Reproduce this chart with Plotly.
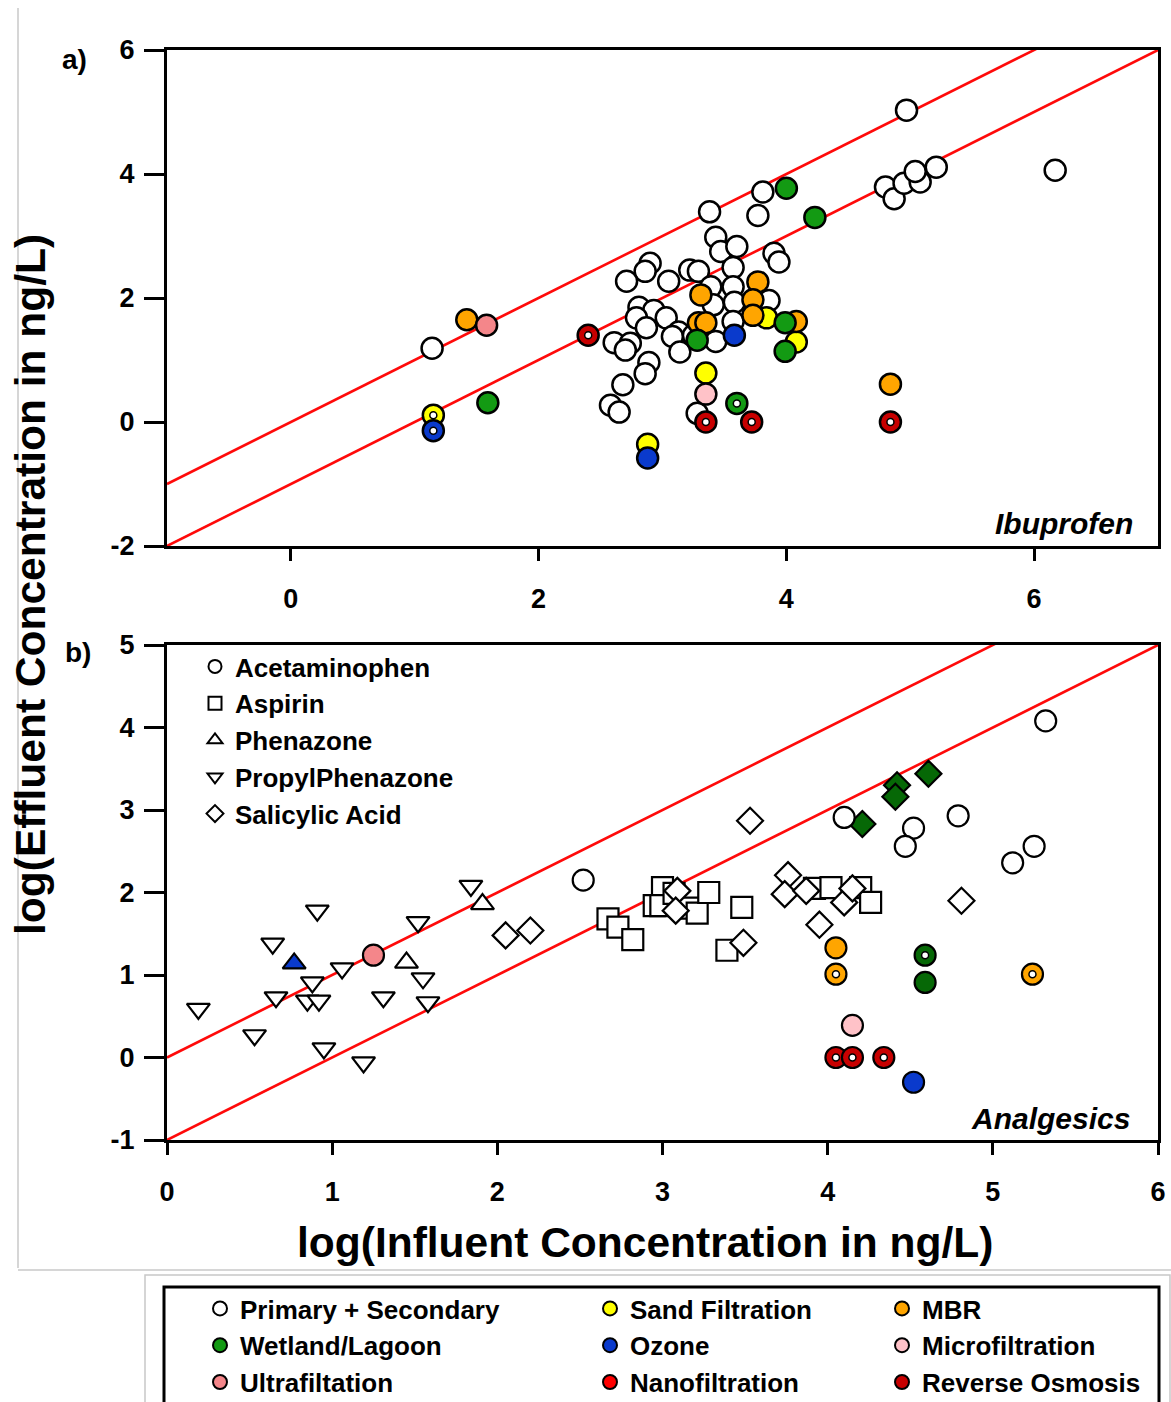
import plotly.graph_objects as go

W, H = 1171, 1402
FONT = "Liberation Sans, Arial, sans-serif"

def fx(p):
    return p / W

def fy(p):
    return 1 - p / H

# ---------------- Treatment categories ----------------
treat_keys = ["primary", "wetland", "ultra", "sand", "ozone", "nano", "mbr", "micro", "ro"]
treat_names = ["Primary + Secondary", "Wetland/Lagoon", "Ultrafiltation",
               "Sand Filtration", "Ozone", "Nanofiltration",
               "MBR", "Microfiltration", "Reverse Osmosis"]
treat_colors = ["#ffffff", "#139a13", "#f4868a",
                "#ffff00", "#0a3acc", "#ff0000",
                "#ffa500", "#ffc2c8", "#c80000"]
bottom_wetland_color = "#066806"

# ---------------- Panel a) Ibuprofen ----------------
ibu_primary_x = [1.14, 4.97, 6.17, 4.80, 4.87, 4.95, 5.08, 5.04, 5.21, 3.81, 3.77, 3.38,
                 3.43, 3.47, 3.60, 3.90, 3.94, 2.90, 2.86, 2.71, 3.05, 3.22, 3.29, 3.57,
                 3.57, 3.39, 2.81, 2.93, 2.79, 3.03, 2.87, 3.41, 3.58, 3.86, 3.13, 3.08,
                 2.61, 2.74, 2.70, 3.43, 3.14, 2.89, 2.86, 2.68, 2.58, 2.65, 3.28, 3.25, 3.57]
ibu_primary_y = [1.19, 5.03, 4.06, 3.79, 3.60, 3.85, 3.87, 4.04, 4.11, 3.71, 3.33, 3.39,
                 2.98, 2.75, 2.83, 2.72, 2.58, 2.56, 2.43, 2.27, 2.27, 2.45, 2.43, 2.49,
                 2.18, 2.18, 1.85, 1.80, 1.68, 1.68, 1.52, 1.89, 1.93, 1.96, 1.45, 1.38,
                 1.28, 1.27, 1.16, 1.30, 1.13, 0.96, 0.78, 0.60, 0.27, 0.16, 0.14, 1.40, 1.62]
ibu_primary_dot = [0] * len(ibu_primary_x)

ibu_sand_x = [1.15, 2.88, 3.84, 4.08, 3.35]
ibu_sand_y = [0.11, -0.36, 1.68, 1.29, 0.79]
ibu_sand_dot = [1, 0, 0, 0, 0]

ibu_mbr_x = [1.42, 3.77, 3.31, 3.73, 3.73, 3.29, 3.35, 4.08, 4.84]
ibu_mbr_y = [1.65, 2.26, 2.05, 1.97, 1.72, 1.60, 1.60, 1.62, 0.61]
ibu_mbr_dot = [0] * 9

ibu_wetland_x = [1.59, 4.00, 4.23, 3.99, 3.99, 3.28, 3.60]
ibu_wetland_y = [0.31, 3.77, 3.30, 1.60, 1.14, 1.32, 0.30]
ibu_wetland_dot = [0, 0, 0, 0, 0, 0, 1]

ibu_ozone_x = [1.15, 2.88, 3.58]
ibu_ozone_y = [-0.14, -0.58, 1.40]
ibu_ozone_dot = [1, 0, 0]

ibu_ultra_x = [1.58]
ibu_ultra_y = [1.56]
ibu_ultra_dot = [0]

ibu_micro_x = [3.35]
ibu_micro_y = [0.45]
ibu_micro_dot = [0]

ibu_ro_x = [2.40, 3.35, 3.72, 4.84]
ibu_ro_y = [1.40, 0.00, 0.00, 0.00]
ibu_ro_dot = [1, 1, 1, 1]

# ---------------- Panel b) Analgesics ----------------
acet_x = [2.52, 5.32, 4.10, 4.52, 4.47, 4.79, 5.12, 5.25, 1.25, 4.05, 4.05, 5.24,
          4.59, 4.59, 4.15, 4.05, 4.15, 4.34, 4.52]
acet_y = [2.15, 4.08, 2.91, 2.78, 2.56, 2.93, 2.36, 2.56, 1.24, 1.33, 1.01, 1.01,
          1.24, 0.91, 0.39, 0.00, 0.00, 0.00, -0.30]
acet_treat = ["primary"] * 8 + ["ultra", "mbr", "mbr", "mbr", "wetland", "wetland",
                                "micro", "ro", "ro", "ro", "ozone"]
acet_dot = [0] * 8 + [0, 0, 1, 1, 1, 0, 0, 1, 1, 1, 0]

aspirin_x = [2.67, 2.73, 2.82, 2.95, 3.00, 2.99, 3.07, 3.16, 3.21, 3.28, 3.48, 3.39,
             3.92, 4.02, 4.20, 4.26]
aspirin_y = [1.68, 1.58, 1.43, 1.84, 2.06, 1.84, 1.99, 1.81, 1.75, 2.00, 1.82, 1.30,
             2.05, 2.06, 2.06, 1.88]
aspirin_treat = ["primary"] * len(aspirin_x)

phen_x = [1.91, 1.45, 0.77]
phen_y = [1.86, 1.15, 1.14]
phen_treat = ["primary", "primary", "ozone"]

propyl_x = [0.19, 0.53, 0.64, 0.66, 0.91, 0.88, 0.85, 0.92, 0.95, 1.06, 1.19, 1.31,
            1.52, 1.55, 1.58, 1.84]
propyl_y = [0.59, 0.27, 1.38, 0.73, 1.78, 0.91, 0.69, 0.69, 0.11, 1.08, -0.06, 0.73,
            1.64, 0.96, 0.67, 2.08]
propyl_treat = ["primary"] * len(propyl_x)

salic_x = [2.05, 2.20, 3.09, 3.08, 3.49, 3.53, 3.76, 3.74, 3.87, 3.95, 4.10, 4.15, 4.81,
           4.61, 4.42, 4.41, 4.21]
salic_y = [1.48, 1.54, 2.02, 1.78, 1.39, 2.87, 2.21, 1.98, 2.02, 1.61, 1.88, 2.05, 1.90,
           3.44, 3.30, 3.16, 2.83]
salic_treat = ["primary"] * 13 + ["wetland"] * 4

compound_names = ["Acetaminophen", "Aspirin", "Phenazone", "PropylPhenazone", "Salicylic Acid"]
compound_symbols = ["circle", "square", "triangle-up", "triangle-down", "diamond"]

# reference lines: y = x + offset
ref_line_offsets = [0, -1]

top_xrange = [-1, 7]
top_yrange = [-2, 6]
bot_xrange = [0, 6]
bot_yrange = [-1, 5]
top_xticks = [0, 2, 4, 6]
top_yticks = [-2, 0, 2, 4, 6]
bot_xticks = [0, 1, 2, 3, 4, 5, 6]
bot_yticks = [-1, 0, 1, 2, 3, 4, 5]

color_of = dict(zip(treat_keys, treat_colors))
color_bottom = dict(color_of)
color_bottom["wetland"] = bottom_wetland_color

fig = go.Figure()

LINE_RED = "#ff0a0a"
for off in ref_line_offsets:
    fig.add_trace(go.Scatter(x=top_xrange, y=[top_xrange[0] + off, top_xrange[1] + off],
                             mode="lines", line=dict(color=LINE_RED, width=2.6),
                             showlegend=False, hoverinfo="skip", xaxis="x", yaxis="y"))
    fig.add_trace(go.Scatter(x=bot_xrange, y=[bot_xrange[0] + off, bot_xrange[1] + off],
                             mode="lines", line=dict(color=LINE_RED, width=2.6),
                             showlegend=False, hoverinfo="skip", xaxis="x2", yaxis="y2"))


def add_dots(xs, ys, flags, xa, ya):
    dx = [x for x, f in zip(xs, flags) if f]
    dy = [y for y, f in zip(ys, flags) if f]
    if dx:
        fig.add_trace(go.Scatter(x=dx, y=dy, mode="markers", showlegend=False,
                                 marker=dict(symbol="circle", size=7, color="white",
                                             line=dict(color="black", width=1.5)),
                                 xaxis=xa, yaxis=ya))


# Panel a traces
ibu_sets = [
    ("primary", ibu_primary_x, ibu_primary_y, ibu_primary_dot),
    ("sand", ibu_sand_x, ibu_sand_y, ibu_sand_dot),
    ("mbr", ibu_mbr_x, ibu_mbr_y, ibu_mbr_dot),
    ("wetland", ibu_wetland_x, ibu_wetland_y, ibu_wetland_dot),
    ("ozone", ibu_ozone_x, ibu_ozone_y, ibu_ozone_dot),
    ("ultra", ibu_ultra_x, ibu_ultra_y, ibu_ultra_dot),
    ("micro", ibu_micro_x, ibu_micro_y, ibu_micro_dot),
    ("ro", ibu_ro_x, ibu_ro_y, ibu_ro_dot),
]
for key, xs, ys, dots in ibu_sets:
    fig.add_trace(go.Scatter(x=xs, y=ys, mode="markers", showlegend=False,
                             marker=dict(symbol="circle", size=21, color=color_of[key],
                                         line=dict(color="black", width=2.5)),
                             xaxis="x", yaxis="y"))
    add_dots(xs, ys, dots, "x", "y")

# Panel b traces (draw order)
bot_sets = [
    ("triangle-down", propyl_x, propyl_y, propyl_treat, None, 20),
    ("triangle-up", phen_x, phen_y, phen_treat, None, 20),
    ("square", aspirin_x, aspirin_y, aspirin_treat, None, 21),
    ("diamond", salic_x, salic_y, salic_treat, None, 20),
    ("circle", acet_x, acet_y, acet_treat, acet_dot, 21),
]
for sym, xs, ys, trs, dots, sz in bot_sets:
    fig.add_trace(go.Scatter(x=xs, y=ys, mode="markers", showlegend=False,
                             marker=dict(symbol=sym, size=sz,
                                         color=[color_bottom[t] for t in trs],
                                         line=dict(color="black", width=2.2)),
                             xaxis="x2", yaxis="y2"))
    if dots:
        add_dots(xs, ys, dots, "x2", "y2")

# Legend entries: treatment colours in three columns
legend_of_col = ["legend", "legend", "legend", "legend2", "legend2", "legend2",
                 "legend3", "legend3", "legend3"]
for name, col, lg in zip(treat_names, treat_colors, legend_of_col):
    fig.add_trace(go.Scatter(x=[None], y=[None], mode="markers", name=name, legend=lg,
                             marker=dict(symbol="circle", size=14, color=col,
                                         line=dict(color="black", width=2)),
                             xaxis="x2", yaxis="y2"))

# Legend entries: compound symbols
for name, sym in zip(compound_names, compound_symbols):
    fig.add_trace(go.Scatter(x=[None], y=[None], mode="markers", name=name, legend="legend4",
                             marker=dict(symbol=sym, size=13, color="white",
                                         line=dict(color="black", width=2)),
                             xaxis="x2", yaxis="y2"))

tickfont = dict(family=FONT, size=27, color="black", weight="bold")
axis_common = dict(showline=True, mirror=True, linecolor="black", linewidth=3,
                   showgrid=False, zeroline=False, ticks="outside", tickcolor="black",
                   tickwidth=2.5, tickfont=tickfont, tickmode="array")
xdom = [fx(167), fx(1158)]

legend_font = dict(family=FONT, size=26, color="black", weight="bold")
leg_common = dict(font=legend_font, bgcolor="rgba(0,0,0,0)", borderwidth=0,
                  xanchor="left", yanchor="top", orientation="v", itemclick=False)

fig.update_layout(
    width=W, height=H, margin=dict(l=0, r=0, t=0, b=0, autoexpand=False),
    paper_bgcolor="white", plot_bgcolor="white",
    showlegend=True,
    xaxis=dict(domain=xdom, range=top_xrange, tickvals=top_xticks,
               ticktext=[str(v) for v in top_xticks], anchor="y",
               ticklen=12, ticklabelstandoff=15, **axis_common),
    yaxis=dict(domain=[fy(546), fy(50)], range=top_yrange, tickvals=top_yticks,
               ticktext=[str(v) for v in top_yticks],
               anchor="x", ticklen=20, ticklabelstandoff=4, **axis_common),
    xaxis2=dict(domain=xdom, range=bot_xrange, tickvals=bot_xticks,
                ticktext=[str(v) for v in bot_xticks], anchor="y2",
                ticklen=12, ticklabelstandoff=14, **axis_common),
    yaxis2=dict(domain=[fy(1140), fy(645)], range=bot_yrange, tickvals=bot_yticks,
                ticktext=[str(v) for v in bot_yticks], anchor="x2", ticklen=20,
                ticklabelstandoff=4, **axis_common),
    legend=dict(x=fx(200), y=fy(1285), **leg_common),
    legend2=dict(x=fx(590), y=fy(1285), **leg_common),
    legend3=dict(x=fx(882), y=fy(1285), **leg_common),
    legend4=dict(x=fx(195), y=fy(643), **leg_common),
)

title_font = dict(family=FONT, size=42.5, color="black", weight="bold")
label_font = dict(family=FONT, size=28, color="black", weight="bold")
name_font = dict(family=FONT, size=30, color="black", weight="bold", style="italic")
fig.add_annotation(text="log(Effluent Concentration in ng/L)", x=fx(30), y=fy(585),
                   xref="paper", yref="paper", xanchor="center", yanchor="middle",
                   textangle=-90, showarrow=False, font=title_font)
fig.add_annotation(text="log(Influent Concentration in ng/L)", x=fx(645), y=fy(1242),
                   xref="paper", yref="paper", xanchor="center", yanchor="middle",
                   showarrow=False, font=title_font)
fig.add_annotation(text="a)", x=fx(75), y=fy(60), xref="paper", yref="paper",
                   xanchor="center", yanchor="middle", showarrow=False, font=label_font)
fig.add_annotation(text="b)", x=fx(78), y=fy(652), xref="paper", yref="paper",
                   xanchor="center", yanchor="middle", showarrow=False, font=label_font)
fig.add_annotation(text="Ibuprofen", x=fx(1135), y=fy(523), xref="paper", yref="paper",
                   xanchor="right", yanchor="middle", showarrow=False, font=name_font)
fig.add_annotation(text="Analgesics", x=fx(1132), y=fy(1118), xref="paper", yref="paper",
                   xanchor="right", yanchor="middle", showarrow=False, font=name_font)

# Frame decorations
fig.add_shape(type="line", xref="paper", yref="paper", x0=fx(18), x1=fx(18), y0=fy(8), y1=fy(1268),
              line=dict(color="#c8c8c8", width=1.5))
fig.add_shape(type="line", xref="paper", yref="paper", x0=fx(18), x1=fx(1171), y0=fy(1270), y1=fy(1270),
              line=dict(color="#c8c8c8", width=1.5))
fig.add_shape(type="rect", xref="paper", yref="paper", x0=fx(145), x1=fx(1170), y0=-0.01, y1=fy(1275),
              line=dict(color="#c8c8c8", width=1.5))
fig.add_shape(type="rect", xref="paper", yref="paper", x0=fx(164), x1=fx(1159), y0=-0.01, y1=fy(1287),
              line=dict(color="black", width=3))

fig.write_html("out.html")
